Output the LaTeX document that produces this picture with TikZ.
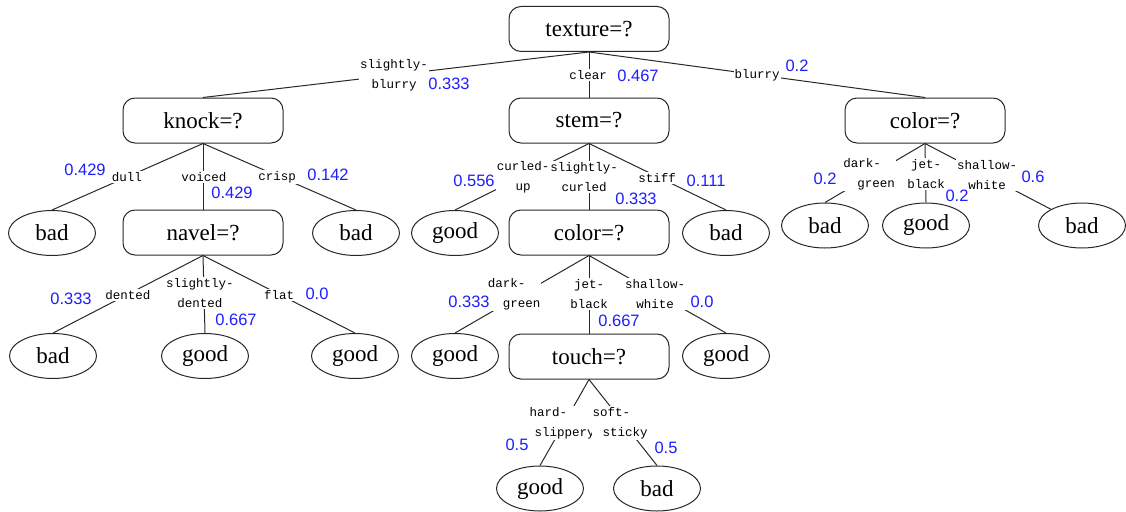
\documentclass[tikz,border=0pt]{standalone}
\usepackage{fontspec}
\setmainfont{Liberation Serif}
\newfontfamily\lblfont{Liberation Mono}
\newfontfamily\numfont{Liberation Sans}
\usetikzlibrary{shapes.geometric}
\definecolor{numblue}{RGB}{30,30,255}
\definecolor{inkgray}{RGB}{40,40,40}

\begin{document}
\begin{tikzpicture}[x=1pt,y=-1pt,
  test/.style={draw=inkgray, line width=1pt, rounded corners=12pt,
    minimum width=160pt, minimum height=45pt, inner sep=0pt,
    font=\fontsize{23}{26}\selectfont},
  leaf/.style={draw=inkgray, line width=1pt, ellipse,
    minimum width=87pt, minimum height=45pt, inner sep=0pt,
    font=\fontsize{23}{26}\selectfont},
  branch/.style={draw=inkgray, line width=1pt},
  elab/.style={fill=white, inner sep=1pt, align=center,
    font=\lblfont\fontsize{12.5}{20}\selectfont},
  elabl/.style={elab, align=left},
  prob/.style={text=numblue, inner sep=0pt,
    font=\numfont\fontsize{16.5}{18}\selectfont}]

\useasboundingbox (0,0) rectangle (1126,511);

% ---- decision nodes and leaves ----
\node[test] (tex)   at (589,29)    {texture=?};
\node[test] (knock) at (203,120.5) {knock=?};
\node[test] (stem)  at (589,120.5) {stem=?};
\node[test] (colR)  at (925,120.5) {color=?};

\node[leaf] (bad1)  at (52,233)    {bad};
\node[test] (navel) at (203,232.5) {navel=?};
\node[leaf] (bad2)  at (356,233)   {bad};
\node[leaf] (good1) at (455,233)   {good};
\node[test] (colM)  at (589,232.5) {color=?};
\node[leaf] (bad3)  at (726,233)   {bad};
\node[leaf] (bad4)  at (825,225.5) {bad};
\node[leaf] (good2) at (926,225.5) {good};
\node[leaf] (bad5)  at (1082,225.5){bad};

\node[leaf] (bad6)  at (53,356)    {bad};
\node[leaf] (good3) at (205,356)   {good};
\node[leaf] (good4) at (355,356)   {good};
\node[leaf] (good5) at (455,356)   {good};
\node[test] (touch) at (589,356.5) {touch=?};
\node[leaf] (good6) at (726,356)   {good};

\node[leaf] (good7) at (540,488.5) {good};
\node[leaf] (bad7)  at (657,488.5) {bad};

% ---- branches ----
\draw[branch] (tex.south) -- (knock.north);
\draw[branch] (tex.south) -- (stem.north);
\draw[branch] (tex.south) -- (colR.north);

\draw[branch] (knock.south) -- (bad1.north);
\draw[branch] (knock.south) -- (navel.north);
\draw[branch] (knock.south) -- (bad2.north);

\draw[branch] (stem.south) -- (good1.north);
\draw[branch] (stem.south) -- (colM.north);
\draw[branch] (stem.south) -- (bad3.north);

\draw[branch] (colR.south) -- (bad4.north);
\draw[branch] (colR.south) -- (good2.north);
\draw[branch] (colR.south) -- (bad5);

\draw[branch] (navel.south) -- (bad6.north);
\draw[branch] (navel.south) -- (good3.north);
\draw[branch] (navel.south) -- (good4.north);

\draw[branch] (colM.south) -- (good5.north);
\draw[branch] (colM.south) -- (touch.north);
\draw[branch] (colM.south) -- (good6.north);

\draw[branch] (touch.south) -- (good7.north);
\draw[branch] (touch.south) -- (bad7.north);

% ---- branch values (white boxes break the lines) ----
\node[elab] (l1)  at (394,75)  {slightly-\\blurry};
\node[elab] (l2)  at (588,75)  {clear};
\node[elab] (l3)  at (757,75)  {blurry};

\node[elab] (l4)  at (127,177) {dull};
\node[elab] (l5)  at (204,177) {voiced};
\node[elab] (l6)  at (277,177) {crisp};

\node[elab] (l7)  at (523,177) {curled-\\up};
\node[elab] (l8)  at (584,177) {slightly-\\curled};
\node[elab] (l9)  at (657,178) {stiff};

\node[elabl] (l10) at (869,174) {dark-\\\hspace*{14pt}green};
\node[elab]  (l11) at (926,174) {jet-\\black};
\node[elab]  (l12) at (987,175) {shallow-\\white};

\node[elab] (l13) at (128,295) {dented};
\node[elab] (l14) at (200,293) {slightly-\\dented};
\node[elab] (l15) at (279,295) {flat};

\node[elabl] (l16) at (514,294) {dark-\\\hspace*{15pt}green};
\node[elab]  (l17) at (589,294) {jet-\\black};
\node[elab]  (l18) at (655,294) {shallow-\\white};

\node[elabl] (l19) at (562,423) {hard-\\\hspace*{5pt}slippery};
\node[elabl] (l20) at (620,423) {soft-\\\hspace*{10pt}sticky};

% ---- branch probabilities ----
\node[prob] (p1)  at (449,84)  {0.333};
\node[prob] (p2)  at (638,76)  {0.467};
\node[prob] (p3)  at (797,66)  {0.2};

\node[prob] (p4)  at (85,170)  {0.429};
\node[prob] (p5)  at (232,193) {0.429};
\node[prob] (p6)  at (328,175) {0.142};

\node[prob] (p7)  at (474,181) {0.556};
\node[prob] (p8)  at (636,199) {0.333};
\node[prob] (p9)  at (706,181) {0.111};

\node[prob] (p10) at (825,179) {0.2};
\node[prob] (p11) at (957,196) {0.2};
\node[prob] (p12) at (1033,177){0.6};

\node[prob] (p13) at (71,299)  {0.333};
\node[prob] (p14) at (236,320) {0.667};
\node[prob] (p15) at (317,294) {0.0};

\node[prob] (p16) at (469,302) {0.333};
\node[prob] (p17) at (619,321) {0.667};
\node[prob] (p18) at (702,302) {0.0};

\node[prob] (p19) at (517,445) {0.5};
\node[prob] (p20) at (666,448) {0.5};
\end{tikzpicture}
\end{document}
